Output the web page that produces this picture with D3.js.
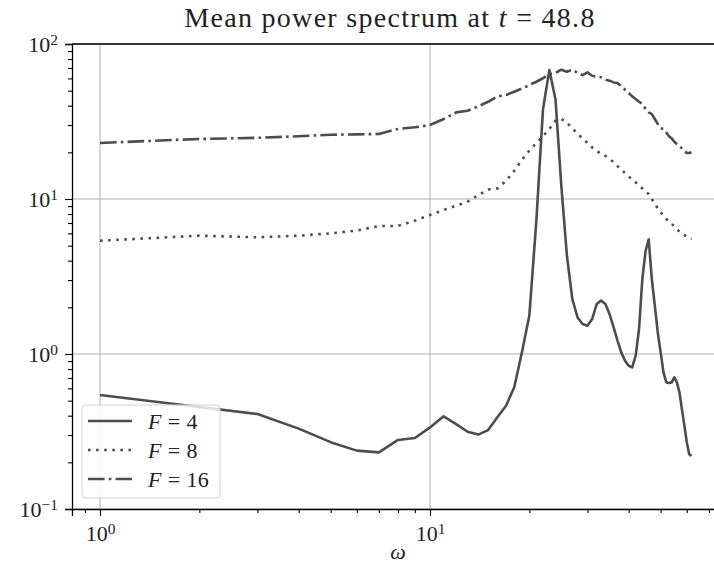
<!DOCTYPE html>
<html>
<head>
<meta charset="utf-8">
<script src="https://cdn.jsdelivr.net/npm/d3@7"></script>
<style>
  body { margin: 0; background: #fff; }
  svg text { font-family: "Liberation Serif", "DejaVu Serif", serif; fill: #222; }
  .grid line { stroke: #b0b0b0; stroke-width: 1; }
  .axis path, .axis line { stroke: #000; }
</style>
</head>
<body>
<svg id="chart"></svg>
<script>
// angular frequencies (x values)
const omega = [1, 2, 3, 4, 5, 6, 7, 8, 9, 10, 11, 12, 13, 14, 15, 16, 17, 18, 19, 20,
  21, 22, 23, 24, 25, 26, 27, 28, 29, 30, 31, 32, 33, 34, 35, 36, 37, 38, 39, 40,
  41, 42, 43, 44, 45, 46, 47, 48, 49, 50, 51, 52, 53, 54, 55, 56, 57, 58, 59, 60, 61, 62];

// mean power spectrum for each forcing
const powerF4 = [0.544, 0.455, 0.41, 0.33, 0.27, 0.238, 0.232, 0.279, 0.287, 0.336,
  0.396, 0.353, 0.315, 0.302, 0.323, 0.391, 0.464, 0.61, 1.03, 1.77,
  7.2, 38, 68, 44, 12.2, 4.3, 2.26, 1.72, 1.56, 1.52,
  1.68, 2.10, 2.21, 2.10, 1.81, 1.49, 1.22, 1.02, 0.905, 0.84,
  0.82, 0.975, 1.45, 3.05, 4.6, 5.5, 3.05, 2.05, 1.38, 1.02,
  0.76, 0.656, 0.65, 0.656, 0.707, 0.656, 0.566, 0.44, 0.345, 0.27, 0.226, 0.22];

const powerF8 = [5.38, 5.8, 5.66, 5.8, 6.0, 6.25, 6.7, 6.7, 7.25, 7.88,
  8.5, 9.05, 9.6, 10.6, 11.5, 11.7, 13.1, 15.2, 17.9, 20.5,
  23, 25.4, 28.3, 32, 32.8, 31, 28.6, 26.3, 24.6, 23,
  21.5, 20.5, 19.5, 19, 18.1, 17.3, 16.3, 15.5, 14.7, 14.0,
  13.3, 12.8, 12.2, 11.7, 11.1, 10.8, 10, 9.3, 8.7, 8.2,
  7.8, 7.43, 7.14, 6.9, 6.67, 6.4, 6.15, 6.0, 5.86, 5.71, 5.57, 5.52];

const powerF16 = [23.0, 24.4, 24.8, 25.4, 26.0, 26.1, 26.3, 28.3, 29, 30,
  32.8, 36.2, 37.1, 39.6, 42.4, 45.9, 46.9, 49.2, 51.7, 54.3,
  57.1, 60.1, 64, 65, 68.3, 66.2, 68.3, 65, 63, 65.6,
  62.4, 61.5, 61, 58.9, 58, 56.5, 56, 53.3, 50.7, 48.3,
  45.9, 44.2, 42.4, 41, 38.1, 36.2, 35.3, 32.8, 30.5, 28.6,
  28.3, 26.9, 25.4, 24.6, 23.4, 22.6, 22, 21.2, 20.5, 19.8, 19.8, 20];

const seriesLabels = ['4', '8', '16'];
const titleText = 'Mean power spectrum at ';

const xMajor = [1, 10];
const xMinor = [0.9, 2, 3, 4, 5, 6, 7, 8, 9, 20, 30, 40, 50, 60, 70];
const yMajor = [0.1, 1, 10, 100];
const yMinor = [0.2, 0.3, 0.4, 0.5, 0.6, 0.7, 0.8, 0.9,
  2, 3, 4, 5, 6, 7, 8, 9, 20, 30, 40, 50, 60, 70, 80, 90];

const width = 714, height = 567;
const margin = {top: 44, right: -10, bottom: 58, left: 72};
const innerW = width - margin.left - margin.right;
const innerH = height - margin.top - margin.bottom;
const lineColor = '#4d4d4d';
const lw = 2.6;

const svg = d3.select('#chart').attr('width', width).attr('height', height);

const x = d3.scaleLog()
  .domain([Math.pow(10, -28 / 330), Math.pow(10, (innerW - 28) / 330)])
  .range([0, innerW]);
const y = d3.scaleLog().domain([0.1, 100]).range([innerH, 0]);

const g = svg.append('g').attr('transform', `translate(${margin.left},${margin.top})`);

// grid
g.append('g').attr('class', 'grid')
  .selectAll('line.gx').data(xMajor).join('line')
  .attr('x1', d => x(d)).attr('x2', d => x(d)).attr('y1', 0).attr('y2', innerH);
g.append('g').attr('class', 'grid')
  .selectAll('line.gy').data(yMajor).join('line')
  .attr('x1', 0).attr('x2', innerW).attr('y1', d => y(d)).attr('y2', d => y(d));

// series
const series = [
  {label: seriesLabels[0], values: powerF4, dash: null},
  {label: seriesLabels[1], values: powerF8, dash: `${lw},${lw * 1.65 + 1.2}`},
  {label: seriesLabels[2], values: powerF16, dash: `${lw * 6.4},${lw * 1.6},${lw},${lw * 1.6}`}
];

const line = d3.line()
  .x(d => x(d[0]))
  .y(d => y(d[1]));

g.selectAll('.series').data(series).join('path')
  .attr('class', 'series')
  .attr('fill', 'none')
  .attr('stroke', lineColor)
  .attr('stroke-width', lw)
  .attr('stroke-linejoin', 'round')
  .attr('stroke-dasharray', d => d.dash)
  .attr('d', d => line(omega.map((w, i) => [w, d.values[i]])));

// axes
function sup(sel) {
  sel.each(function(d) {
    const t = d3.select(this);
    const e = Math.round(Math.log10(d));
    t.text('10');
    t.append('tspan').attr('dy', '-0.45em').attr('font-size', '0.7em')
      .text(e < 0 ? '\u2212' + (-e) : e);
  });
}

const xAxisMajor = d3.axisBottom(x).tickValues(xMajor).tickSize(7).tickPadding(6);
const xAxisMinor = d3.axisBottom(x).tickValues(xMinor).tickSize(4).tickFormat('');
const yAxisMajor = d3.axisLeft(y).tickValues(yMajor).tickSize(7).tickPadding(7);
const yAxisMinor = d3.axisLeft(y).tickValues(yMinor).tickSize(4).tickFormat('');

const xg = g.append('g').attr('class', 'axis').attr('transform', `translate(0,${innerH})`);
xg.call(xAxisMajor);
xg.selectAll('text').attr('font-size', 22).attr('dy', '0.85em').call(sup);
g.append('g').attr('class', 'axis').attr('transform', `translate(0,${innerH})`).call(xAxisMinor)
  .call(a => a.select('.domain').remove());

const yg = g.append('g').attr('class', 'axis');
yg.call(yAxisMajor);
yg.selectAll('text').attr('font-size', 22).attr('dy', '0.35em').call(sup);
g.append('g').attr('class', 'axis').call(yAxisMinor)
  .call(a => a.select('.domain').remove());

g.selectAll('.axis path.domain').attr('stroke-width', 1.3);
g.selectAll('.axis line').attr('stroke-width', 1.1);

// top and right spines
g.append('line').attr('x1', 0).attr('x2', innerW).attr('y1', 0).attr('y2', 0)
  .attr('stroke', '#000').attr('stroke-width', 1.3);
g.append('line').attr('x1', innerW).attr('x2', innerW).attr('y1', 0).attr('y2', innerH)
  .attr('stroke', '#000').attr('stroke-width', 1.3);

// axis label
svg.append('text')
  .attr('x', margin.left + innerW / 2)
  .attr('y', 559)
  .attr('text-anchor', 'middle')
  .attr('font-size', 22)
  .attr('font-style', 'italic')
  .text('\u03c9');

// title
const title = svg.append('text')
  .attr('x', 390)
  .attr('y', 27)
  .attr('text-anchor', 'middle')
  .attr('font-size', 28)
  .attr('letter-spacing', 1.3);
title.append('tspan').text(titleText);
title.append('tspan').attr('font-style', 'italic').text('t');
title.append('tspan').text(' = 48.8');

// legend
const legend = svg.append('g').attr('transform', 'translate(82,405)');
legend.append('rect')
  .attr('width', 138).attr('height', 93).attr('rx', 4)
  .attr('fill', '#fff').attr('fill-opacity', 0.8)
  .attr('stroke', '#d0d0d0').attr('stroke-width', 1);

const items = legend.selectAll('.item').data(series).join('g')
  .attr('class', 'item')
  .attr('transform', (d, i) => `translate(0,${16 + i * 29})`);
items.append('line')
  .attr('x1', 6).attr('x2', 50).attr('y1', 0).attr('y2', 0)
  .attr('stroke', lineColor).attr('stroke-width', lw)
  .attr('stroke-dasharray', d => d.dash);
const lt = items.append('text')
  .attr('x', 66).attr('y', 0).attr('dy', '0.35em').attr('font-size', 22)
  .attr('letter-spacing', 0.4);
lt.append('tspan').attr('font-style', 'italic').text('F');
lt.append('tspan').text(d => ' = ' + d.label);
</script>
</body>
</html>
